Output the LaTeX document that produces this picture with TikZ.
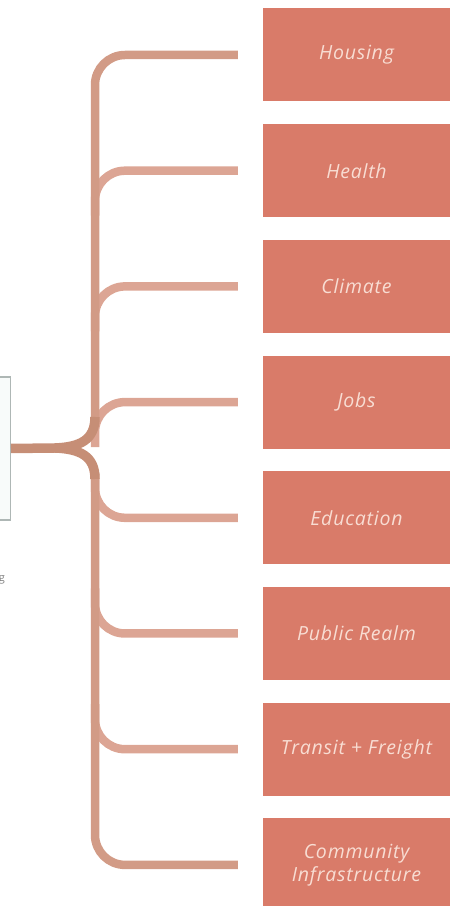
\documentclass[tikz,border=0pt]{standalone}
\usepackage{fontspec}
\setsansfont{Open Sans}
\newfontfamily\topicfont[LetterSpace=4]{Open Sans}
\usetikzlibrary{positioning}
\definecolor{boxred}{HTML}{D97B69}
\definecolor{boxtext}{HTML}{F8DDD3}
\definecolor{branchc}{HTML}{DCA594}
\definecolor{trunkc}{HTML}{D29B86}
\definecolor{forkc}{HTML}{C68E76}
\definecolor{framegray}{HTML}{AEB7B5}
\definecolor{framefill}{HTML}{F8FBFA}

\begin{document}
\begin{tikzpicture}[x=1pt,y=1pt,
	topic/.style={fill=boxred, text=boxtext, minimum width=187pt, minimum height=93pt, inner sep=2pt, align=center, font=\topicfont\itshape\fontsize{19.5}{23}\selectfont},
	branch/.style={draw=branchc, line width=8.5pt, rounded corners=30pt}]
		\useasboundingbox (0,0) rectangle (451,906);
		\node (t1) [topic] at (356.5,851) {Housing};
		\node (t2) [topic, below=22.3pt of t1] {Health};
		\node (t3) [topic, below=22.3pt of t2] {Climate};
		\node (t4) [topic, below=22.3pt of t3] {Jobs};
		\node (t5) [topic, below=22.3pt of t4] {Education};
		\node (t6) [topic, below=22.3pt of t5] {Public Realm};
		\node (t7) [topic, below=22.3pt of t6] {Transit + Freight};
		\node (t8) [topic, below=22.3pt of t7] {Community\\Infrastructure};
		\node (src) [draw=framegray, fill=framefill, line width=1.2pt, minimum width=40pt, minimum height=143pt, anchor=east] at (11,457.5) {};
		\node (cut) [text=gray, font=\sffamily\fontsize{11}{13}\selectfont, anchor=base east, inner sep=0pt] at (5,324) {g};
		\coordinate (trunk) at (95,458);
		\coordinate (fork) at (55,458);
		\draw[branch] ([xshift=-25pt]t2.west) -- (t2.west -| trunk) -- ++(0,-45);
		\draw[branch] ([xshift=-25pt]t3.west) -- (t3.west -| trunk) -- ++(0,-45);
		\draw[branch] ([xshift=-25pt]t4.west) -- (t4.west -| trunk) -- ++(0,-45);
		\draw[branch] ([xshift=-25pt]t5.west) -- (t5.west -| trunk) -- ++(0,45);
		\draw[branch] ([xshift=-25pt]t6.west) -- (t6.west -| trunk) -- ++(0,45);
		\draw[branch] ([xshift=-25pt]t7.west) -- (t7.west -| trunk) -- ++(0,45);
		\draw[branch, trunkc] ([xshift=-25pt]t1.west) -- (t1.west -| trunk) -- ([yshift=30pt]trunk);
		\draw[branch, trunkc] ([xshift=-25pt]t8.west) -- (t8.west -| trunk) -- ([yshift=-30pt]trunk);
		% fork from the left box into the trunk
		\draw[forkc, line width=9.5pt, line join=round] (src.east) -- (fork) .. controls (80,459) and (95,466) .. ([yshift=31pt]trunk);
		\draw[forkc, line width=9.5pt, line join=round] (fork) .. controls (80,457) and (95,450) .. ([yshift=-31pt]trunk);
\end{tikzpicture}
\end{document}
